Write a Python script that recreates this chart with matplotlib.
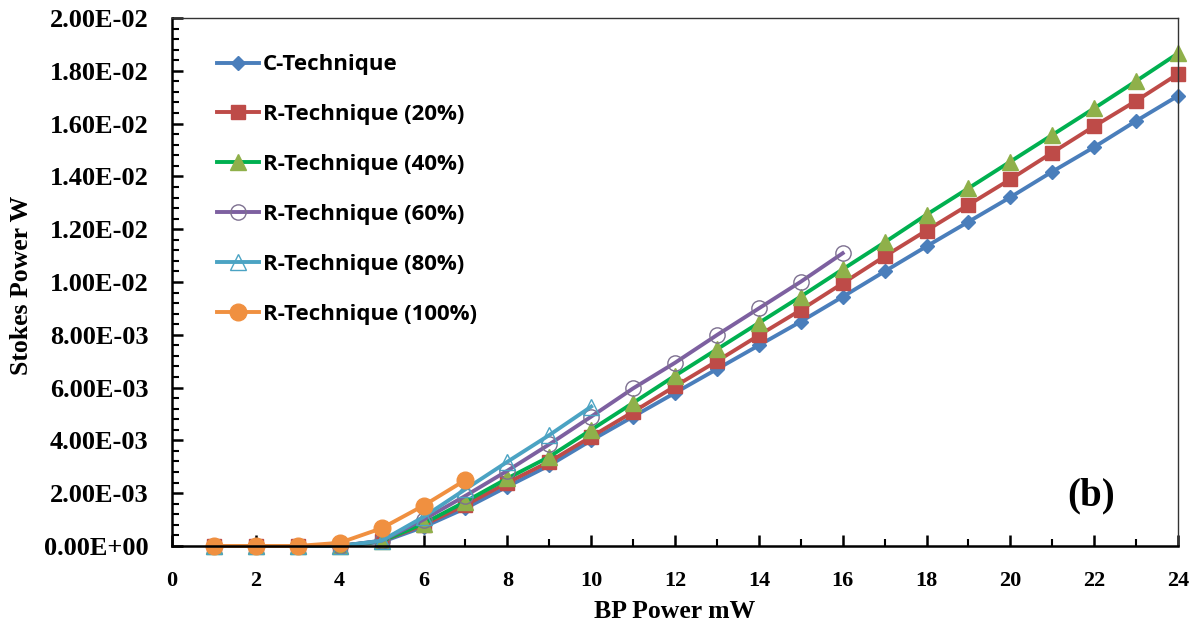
import matplotlib
matplotlib.use("Agg")
import matplotlib.pyplot as plt
from matplotlib.ticker import MultipleLocator

# BP pump power (mW)
bp_power = list(range(1, 25))

# Stokes power (W) for each technique
c_tech = [0, 0, 0, 0, 0.00015, 0.00072, 0.00143, 0.00225, 0.00305, 0.0040,
          0.0049, 0.0058, 0.0067, 0.0076, 0.0085, 0.00944, 0.0104, 0.01135,
          0.01228, 0.01321, 0.01418, 0.01511, 0.0161, 0.01705]
r_20 = [0, 0, 0, 0, 0.00018, 0.0008, 0.00155, 0.0024, 0.00319, 0.00414,
        0.00508, 0.00605, 0.0070, 0.00798, 0.00894, 0.00995, 0.01097, 0.01195,
        0.01292, 0.01389, 0.0149, 0.0159, 0.01686, 0.01788]
r_40 = [0, 0, 0, 0, 0.00018, 0.00085, 0.00168, 0.00256, 0.00338, 0.0044,
        0.00542, 0.00645, 0.00745, 0.00845, 0.00945, 0.01048, 0.0115, 0.01255,
        0.01355, 0.01456, 0.01557, 0.01658, 0.01761, 0.01866]
r_60 = [0, 0, 0, 0, 0.0002, 0.001, 0.0019, 0.00285, 0.00385, 0.0049,
        0.00597, 0.00694, 0.00799, 0.009, 0.01001, 0.01109]
r_80 = [0, 0, 0, 0, 0.0002, 0.0011, 0.00215, 0.00319, 0.0042, 0.00528]
r_100 = [0, 0, 0, 0.00012, 0.00067, 0.00153, 0.0025]

labels = ["C-Technique", "R-Technique (20%)", "R-Technique (40%)",
          "R-Technique (60%)", "R-Technique (80%)", "R-Technique (100%)"]

ytick_vals = [i * 0.002 for i in range(11)]
ytick_labels = ["0.00E+00", "2.00E-03", "4.00E-03", "6.00E-03", "8.00E-03",
                "1.00E-02", "1.20E-02", "1.40E-02", "1.60E-02", "1.80E-02",
                "2.00E-02"]

fig = plt.figure(figsize=(11.99, 6.29), dpi=100)
ax = fig.add_axes([0.1435, 0.132, 0.839, 0.8394])

lw = 2.8
ax.plot(bp_power, c_tech, color="#4A7EBB", lw=lw, marker="D", ms=7.5,
        mfc="#4A7EBB", mec="#4A7EBB", label=labels[0], clip_on=False)
ax.plot(bp_power, r_20, color="#BE4B48", lw=lw, marker="s", ms=10,
        mfc="#BE4B48", mec="#BE4B48", label=labels[1], clip_on=False)
ax.plot(bp_power, r_40, color="#00B050", lw=lw, marker="^", ms=11,
        mfc="#8FB04A", mec="#8FB04A", label=labels[2], clip_on=False)
ax.plot(bp_power[:len(r_60)], r_60, color="#7D60A0", lw=lw, marker="o", ms=11,
        mfc="none", mec="#7D7090", mew=1.0, label=labels[3], clip_on=False)
ax.plot(bp_power[:len(r_80)], r_80, color="#4BA3C3", lw=lw, marker="^", ms=11,
        mfc="none", mec="#4BA3C3", mew=1.0, label=labels[4], clip_on=False)
ax.plot(bp_power[:len(r_100)], r_100, color="#F09040", lw=lw, marker="o", ms=12,
        mfc="#F09040", mec="#F09040", label=labels[5], clip_on=False)

ax.set_xlim(0, 24)
ax.set_ylim(0, 0.02)
ax.set_xticks(range(0, 25, 2))
ax.xaxis.set_minor_locator(MultipleLocator(1))
ax.set_yticks(ytick_vals)
ax.set_yticklabels(ytick_labels)
ax.yaxis.set_minor_locator(MultipleLocator(0.0004))

for lab in ax.get_yticklabels():
    lab.set_fontfamily("Liberation Serif")
    lab.set_fontweight("bold")
    lab.set_fontsize(19)
for lab in ax.get_xticklabels():
    lab.set_fontfamily("Liberation Serif")
    lab.set_fontweight("bold")
    lab.set_fontsize(16)

ax.tick_params(which="major", direction="in", length=8, width=1.8)
ax.tick_params(which="minor", direction="in", length=5, width=1.5)
ax.tick_params(axis="y", which="major", pad=17)
ax.tick_params(axis="x", which="major", pad=18)

for side in ["left", "bottom"]:
    ax.spines[side].set_linewidth(1.8)
for side in ["top", "right"]:
    ax.spines[side].set_linewidth(1.0)
    ax.spines[side].set_color("#333333")

label_font = dict(family="Liberation Serif", weight="bold", size=18.5)
fig.text(675 / 1199, 1 - 612 / 629, "BP Power mW", ha="center", va="center",
         **label_font)
fig.text(22 / 1199, 1 - 285 / 629, "Stokes Power W", ha="center", va="center",
         rotation=90, **label_font)

ax.text(21.93, 0.00189, "(b)", fontfamily="Liberation Serif", fontweight="bold",
        fontsize=28, ha="center", va="center")

ax.legend(loc="upper left", bbox_to_anchor=(0.025, 0.969), frameon=False,
          prop=dict(family="Open Sans", weight="bold", size=16),
          handlelength=1.9, handletextpad=0.15, labelspacing=1.3)

fig.savefig("out.png", dpi=100)
